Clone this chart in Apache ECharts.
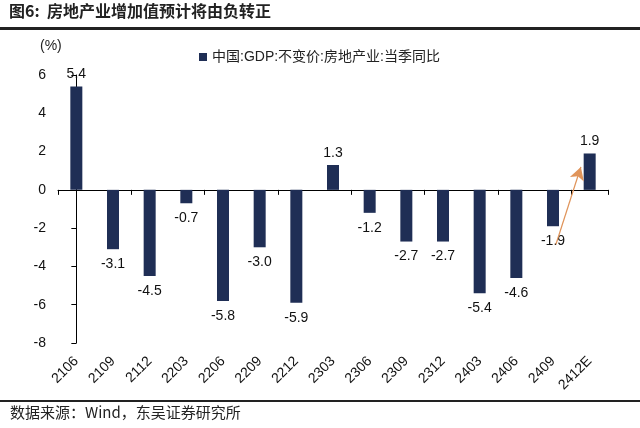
<!DOCTYPE html>
<html><head><meta charset="utf-8">
<script src="https://cdn.jsdelivr.net/npm/echarts@6/dist/echarts.min.js"></script>
<style>html,body{margin:0;padding:0;background:#fff}#c{width:640px;height:428px}</style>
</head><body><div id="c"></div>
<script>
const categories = ['2106','2109','2112','2203','2206','2209','2212','2303','2306','2309','2312','2403','2406','2409','2412E'];
const values = [5.4,-3.1,-4.5,-0.7,-5.8,-3.0,-5.9,1.3,-1.2,-2.7,-2.7,-5.4,-4.6,-1.9,1.9];
const yTicks = [-8,-6,-4,-2,0,2,4,6];
const seriesName = '中国:GDP:不变价:房地产业:当季同比';
const arrowFrom = [13.08, -2.85];
const arrowTo = [13.76, 1.2];

const chart = echarts.init(document.getElementById('c'));
const font = 'Liberation Sans, Arial, Noto Sans CJK SC, sans-serif';
chart.setOption({
  animation: false,
  grid: {left: 58, right: 32, top: 75, bottom: 85},
  legend: {
    data: [seriesName], left: 194, top: 45, itemWidth: 8, itemHeight: 8, icon: 'rect', itemGap: 6,
    textStyle: {fontSize: 14, color: '#222', fontFamily: font}
  },
  xAxis: [
    {type: 'category', data: categories, axisLine: {onZero: true, lineStyle: {color: '#000', width: 1}},
     axisTick: {show: true, length: 5, lineStyle: {color: '#000'}}, axisLabel: {show: false}},
    {type: 'category', data: categories, position: 'bottom', axisLine: {show: false}, axisTick: {show: false},
     axisLabel: {rotate: 45, margin: 16, fontSize: 14, color: '#111', fontFamily: font}},
    {type: 'value', min: -0.5, max: 14.5, show: false}
  ],
  yAxis: {
    type: 'value', min: yTicks[0], max: yTicks[yTicks.length-1], interval: 2,
    axisLine: {show: true, lineStyle: {color: '#000'}},
    axisTick: {show: true, length: 5, lineStyle: {color: '#000'}},
    axisLabel: {fontSize: 14, color: '#111', margin: 12, fontFamily: font},
    splitLine: {show: false}
  },
  series: [
    {name: seriesName, type: 'bar', xAxisIndex: 0, barWidth: 12,
     data: values.map(v => ({value: v, label: {position: v < 0 ? 'bottom' : 'top', distance: v < 0 ? 8 : 5}})),
     itemStyle: {color: '#1F2E55'},
     label: {show: true, fontSize: 14, color: '#111', fontFamily: font,
       formatter: p => p.value.toFixed(1)}
    },
    {type: 'line', xAxisIndex: 2, data: [], silent: true,
     markLine: {silent: true, symbol: ['none', 'arrow'], symbolSize: [11, 13],
       lineStyle: {color: '#E0945A', width: 1.3, type: 'solid'}, label: {show: false},
       data: [[{coord: arrowFrom}, {coord: arrowTo}]]}}
  ],
  graphic: [
    {type: 'text', left: 9, top: 3, style: {text: '图6:  房地产业增加值预计将由负转正', font: 'bold 16px "Noto Sans CJK SC"', fill: '#222'}},
    {type: 'rect', shape: {x: 0, y: 27, width: 640, height: 3}, style: {fill: '#222'}},
    {type: 'text', left: 40, top: 39, style: {text: '(%)', font: '14px "Liberation Sans", Arial', fill: '#222'}},
    {type: 'rect', shape: {x: 0, y: 400, width: 640, height: 2}, style: {fill: '#222'}},
    {type: 'text', left: 10, top: 405, style: {text: '数据来源：Wind，东吴证券研究所', font: '15px "Noto Sans CJK SC"', fill: '#222'}}
  ]
});
</script></body></html>
